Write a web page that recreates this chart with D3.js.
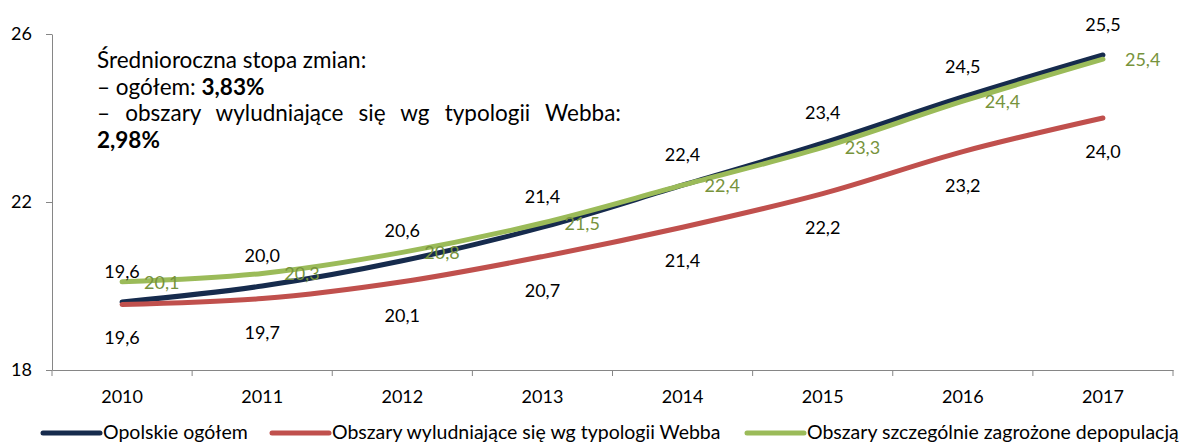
<!DOCTYPE html>
<html>
<head>
<meta charset="utf-8">
<script src="https://d3js.org/d3.v7.min.js"></script>
<style>
    body {margin: 0; background: #fff;}
    svg text {font-family: Lato, "Open Sans", sans-serif;}
</style>
</head>
<body>
<script>
    // dane z wykresu
    var years = ["2010", "2011", "2012", "2013", "2014", "2015", "2016", "2017"];
    var opolskie = [19.62, 20.0, 20.6, 21.4, 22.4, 23.4, 24.5, 25.5];
    var wyludniajace = [19.56, 19.7, 20.1, 20.7, 21.4, 22.2, 23.2, 24.0];
    var zagrozone = [20.1, 20.3, 20.8, 21.5, 22.4, 23.3, 24.4, 25.4];
    var seriesNames = ["Opolskie ogółem", "Obszary wyludniające się wg typologii Webba", "Obszary szczególnie zagrożone depopulacją"];
    var yTicks = [18, 22, 26];

    var W = 1186, H = 444;
    var colors = ["#162b4d", "#c0504d", "#9bbb59"];
    var greenLabel = "#77933c";
    var axisColor = "#868686";

    var fmt = d3.formatLocale({decimal: ",", thousands: " ", grouping: [3], currency: ["", " zł"]}).format(".1f");

    var svg = d3.select("body").append("svg")
        .attr("width", W)
        .attr("height", H);

    var x = d3.scaleBand().domain(years).range([52, 1173]);
    var y = d3.scaleLinear().domain([18, 26]).range([370, 34]);

    // oś Y
    var yAxis = svg.append("g")
        .attr("transform", "translate(52,0)")
        .call(d3.axisLeft(y).tickValues(yTicks).tickSize(6).tickSizeOuter(0).tickPadding(14));
    yAxis.selectAll("path, line").attr("stroke", axisColor);
    yAxis.selectAll("text").attr("font-size", 18).attr("fill", "#000").attr("font-family", "Lato");

    // oś X
    var xAxis = svg.append("g")
        .attr("transform", "translate(0,370)")
        .call(d3.axisBottom(x).tickSize(0).tickSizeOuter(0));
    xAxis.select("path").attr("stroke", axisColor);
    xAxis.selectAll("text")
        .attr("font-size", 18).attr("fill", "#000").attr("font-family", "Lato")
        .attr("y", 33).attr("dy", null);

    // kreski podziału między latami
    var edges = years.map(function(d) { return x(d); }).concat([x.range()[1]]);
    xAxis.selectAll(".edge")
        .data(edges)
        .enter().append("line")
        .attr("class", "edge")
        .attr("x1", function(d) { return d; })
        .attr("x2", function(d) { return d; })
        .attr("y1", 0)
        .attr("y2", 6)
        .attr("stroke", axisColor);

    // linie
    var cx = function(i) { return x(years[i]) + x.bandwidth() / 2; };
    var line = d3.line()
        .x(function(d, i) { return cx(i); })
        .y(function(d) { return y(d); })
        .curve(d3.curveCatmullRom);

    var series = [opolskie, wyludniajace, zagrozone];
    series.forEach(function(s, k) {
        svg.append("path")
            .datum(s)
            .attr("d", line)
            .attr("fill", "none")
            .attr("stroke", colors[k])
            .attr("stroke-width", 5)
            .attr("stroke-linecap", "round")
            .attr("stroke-linejoin", "round");
    });

    // etykiety danych
    svg.selectAll(".lab0")
        .data(opolskie)
        .enter().append("text")
        .attr("x", function(d, i) { return cx(i); })
        .attr("y", function(d) { return y(d) - 24; })
        .attr("text-anchor", "middle")
        .attr("font-size", 18)
        .text(function(d) { return fmt(d); });

    svg.selectAll(".lab1")
        .data(wyludniajace)
        .enter().append("text")
        .attr("x", function(d, i) { return cx(i); })
        .attr("y", function(d) { return y(d) + 40; })
        .attr("text-anchor", "middle")
        .attr("font-size", 18)
        .text(function(d) { return fmt(d); });

    svg.selectAll(".lab2")
        .data(zagrozone)
        .enter().append("text")
        .attr("x", function(d, i) { return cx(i) + 22; })
        .attr("y", function(d) { return y(d) + 7; })
        .attr("font-size", 18)
        .attr("fill", greenLabel)
        .text(function(d) { return fmt(d); });

    // opis
    var note = svg.append("g").attr("font-size", 22.5);
    note.append("text").attr("x", 97).attr("y", 68).text("Średnioroczna stopa zmian:");
    var t2 = note.append("text").attr("x", 97).attr("y", 95);
    t2.append("tspan").text("– ogółem: ");
    t2.append("tspan").attr("font-weight", "bold").text("3,83%");
    var t3 = note.append("text").attr("x", 97).attr("y", 121)
        .text("– obszary wyludniające się wg typologii Webba:");
    var gaps = 6;
    var extra = (621 - 97 - t3.node().getComputedTextLength()) / gaps;
    t3.attr("word-spacing", extra);
    note.append("text").attr("x", 97).attr("y", 148)
        .attr("font-weight", "bold").text("2,98%");

    // legenda
    var legendX = [43, 272, 747];
    var legend = svg.selectAll(".leg")
        .data(seriesNames)
        .enter().append("g")
        .attr("transform", function(d, i) { return "translate(" + legendX[i] + ",433)"; });
    legend.append("line")
        .attr("x1", 0).attr("x2", 57)
        .attr("stroke", function(d, i) { return colors[i]; })
        .attr("stroke-width", 5)
        .attr("stroke-linecap", "round");
    legend.append("text")
        .attr("x", 60)
        .attr("y", 6)
        .attr("font-size", 19.5)
        .text(function(d) { return d; });
</script>
</body>
</html>
